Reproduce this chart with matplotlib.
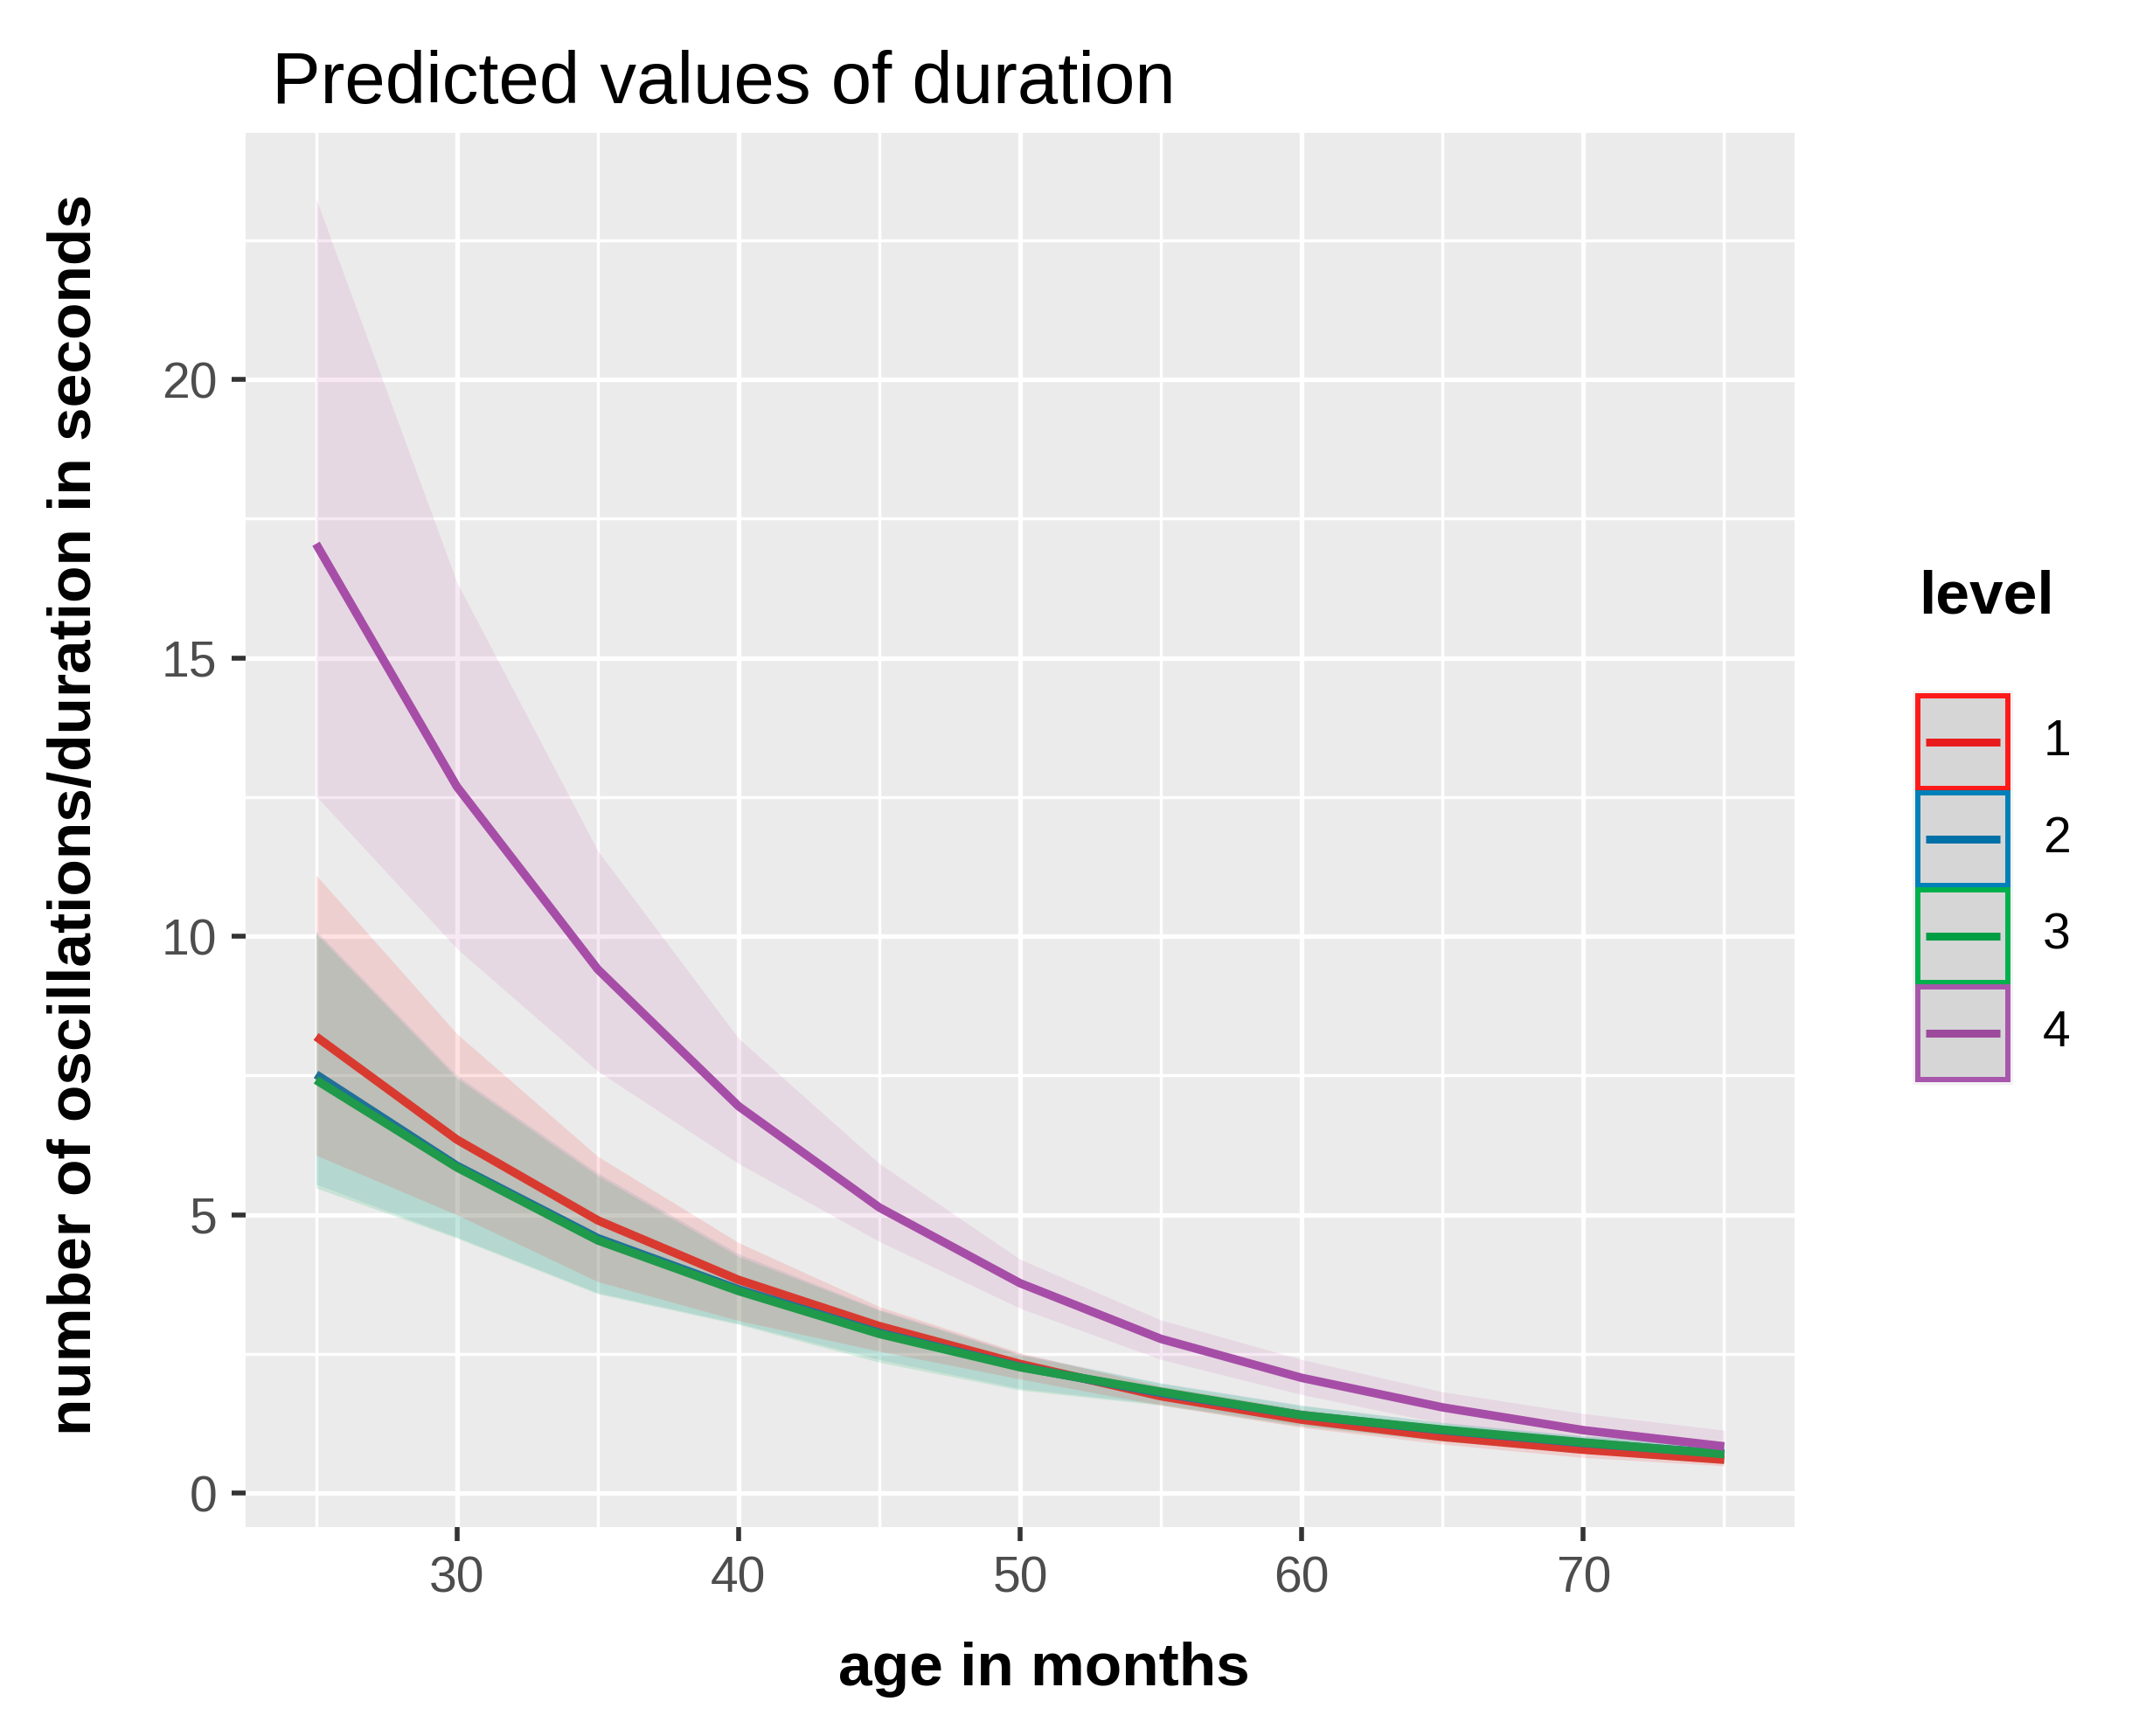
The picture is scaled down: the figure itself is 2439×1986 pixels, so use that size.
import matplotlib
matplotlib.use("Agg")
from matplotlib import pyplot as plt
from matplotlib.patches import Rectangle
from matplotlib.lines import Line2D

# data (age in months, predicted duration + ribbon)
age = [25, 30, 35, 40, 45, 50, 55, 60, 65, 70, 75]

fit_1 = [8.2, 6.35, 4.9, 3.83, 3.0, 2.32, 1.74, 1.32, 1.01, 0.78, 0.6]
upr_1 = [11.1, 8.25, 6.05, 4.5, 3.35, 2.52, 1.92, 1.5, 1.18, 0.94, 0.76]
lwr_1 = [6.07, 5.0, 3.8, 3.1, 2.55, 2.05, 1.58, 1.18, 0.88, 0.64, 0.49]

fit_2 = [7.52, 5.88, 4.58, 3.66, 2.88, 2.27, 1.8, 1.4, 1.13, 0.9, 0.71]
upr_2 = [10.1, 7.5, 5.75, 4.3, 3.3, 2.5, 1.98, 1.58, 1.27, 1.03, 0.9]
lwr_2 = [5.55, 4.6, 3.6, 3.05, 2.4, 1.88, 1.6, 1.22, 0.95, 0.74, 0.55]

fit_3 = [7.42, 5.85, 4.54, 3.63, 2.86, 2.26, 1.82, 1.4, 1.14, 0.91, 0.7]
upr_3 = [10.05, 7.45, 5.7, 4.25, 3.28, 2.48, 1.97, 1.57, 1.26, 1.02, 0.88]
lwr_3 = [5.48, 4.58, 3.58, 3.03, 2.35, 1.85, 1.58, 1.2, 0.93, 0.72, 0.53]

fit_4 = [17.05, 12.69, 9.41, 6.95, 5.13, 3.77, 2.77, 2.07, 1.54, 1.13, 0.84]
upr_4 = [23.25, 16.36, 11.54, 8.17, 5.92, 4.2, 3.11, 2.4, 1.82, 1.43, 1.13]
lwr_4 = [12.52, 9.78, 7.58, 5.92, 4.52, 3.32, 2.4, 1.77, 1.25, 0.93, 0.62]

levels = ["1", "2", "3", "4"]
fits = [fit_1, fit_2, fit_3, fit_4]
uppers = [upr_1, upr_2, upr_3, upr_4]
lowers = [lwr_1, lwr_2, lwr_3, lwr_4]

line_colors = ["#D93A30", "#21709A", "#1F9A4A", "#A64EA7"]
fill_colors = ["#FF1E1E", "#1F78B4", "#3FC37E", "#C85AAA"]
fill_alpha = [0.135, 0.12, 0.2, 0.13]
key_edge = ["#FF1A1A", "#0080B8", "#00B04C", "#A855AC"]
key_line = ["#E81C1C", "#0070A6", "#009E44", "#9C4A9C"]

regular = "Liberation Sans"
bold = "Liberation Sans"

W, H = 2439, 1986
fig = plt.figure(figsize=(W / 100, H / 100), dpi=100)


def fx(px):
    return px / W


def fy(py):
    return 1 - py / H


left, right, top, bottom = 281, 2053, 152, 1747
ax = fig.add_axes([fx(left), fy(bottom), fx(right - left), (bottom - top) / H])
ax.set_facecolor("#EBEBEB")

# ribbons first: purple at the back, red over blue/green
for i in [3, 1, 2, 0]:
    ax.fill_between(age, lowers[i], uppers[i], color=fill_colors[i],
                    alpha=fill_alpha[i], linewidth=0, zorder=2)
for i in range(4):
    ax.plot(age, fits[i], color=line_colors[i], linewidth=7, zorder=3,
            solid_capstyle="butt")

ax.set_xlim(22.5, 77.5)
ax.set_ylim(-0.61, 24.43)
ax.set_xticks([30, 40, 50, 60, 70])
ax.set_xticks([25, 35, 45, 55, 65, 75], minor=True)
ax.set_yticks([0, 5, 10, 15, 20])
ax.set_yticks([2.5, 7.5, 12.5, 17.5, 22.5], minor=True)
ax.grid(which="major", color="white", linewidth=3.8, zorder=1)
ax.grid(which="minor", color="white", linewidth=2.5, zorder=1)
ax.set_axisbelow(True)
for s in ax.spines.values():
    s.set_visible(False)
ax.tick_params(which="major", length=11.5, width=4, color="#333333",
               labelsize=41, labelcolor="#4D4D4D", pad=12)
ax.tick_params(which="minor", length=0)
for lab in ax.get_xticklabels() + ax.get_yticklabels():
    lab.set_fontfamily(regular)

fig.text(fx(311), fy(118), "Predicted values of duration", fontsize=60,
         family=regular, color="black", va="baseline", ha="left")
fig.text(fx(1194), fy(1910), "age in months", fontsize=50, family=bold,
         fontweight="bold", ha="center", va="center")
fig.text(fx(86), fy(932), "number of oscillations/duration in seconds",
         fontsize=50, family=bold, fontweight="bold", rotation=90,
         ha="center", va="center")

# legend drawn by hand (bordered keys)
fig.text(fx(2195), fy(702), "level", fontsize=50, family=bold,
         fontweight="bold", ha="left", va="baseline")
kx0, kx1 = 2194, 2297
kh = 106
step = 111
first_top = 796
fig.add_artist(Rectangle((fx(kx0 - 6), fy(first_top + 3 * step + kh + 6)),
                         fx(kx1 - kx0 + 12), (3 * step + kh + 12) / H,
                         transform=fig.transFigure, facecolor="#F2F2F2",
                         edgecolor="none"))
for i, name in enumerate(levels):
    ktop = first_top + i * step
    fig.add_artist(Rectangle((fx(kx0), fy(ktop + kh)), fx(kx1 - kx0), kh / H,
                             transform=fig.transFigure, facecolor="#D6D6D6",
                             edgecolor=key_edge[i], linewidth=4.3))
    yc = fy(ktop + kh / 2)
    fig.add_artist(Line2D([fx(kx0 + 9), fx(kx1 - 9)], [yc, yc],
                          transform=fig.transFigure, color=key_line[i],
                          linewidth=6.5, solid_capstyle="butt"))
    fig.text(fx(2353), yc, name, fontsize=41, family=regular, color="black",
             ha="center", va="center")

fig.savefig("out.png", dpi=100, facecolor="white")
